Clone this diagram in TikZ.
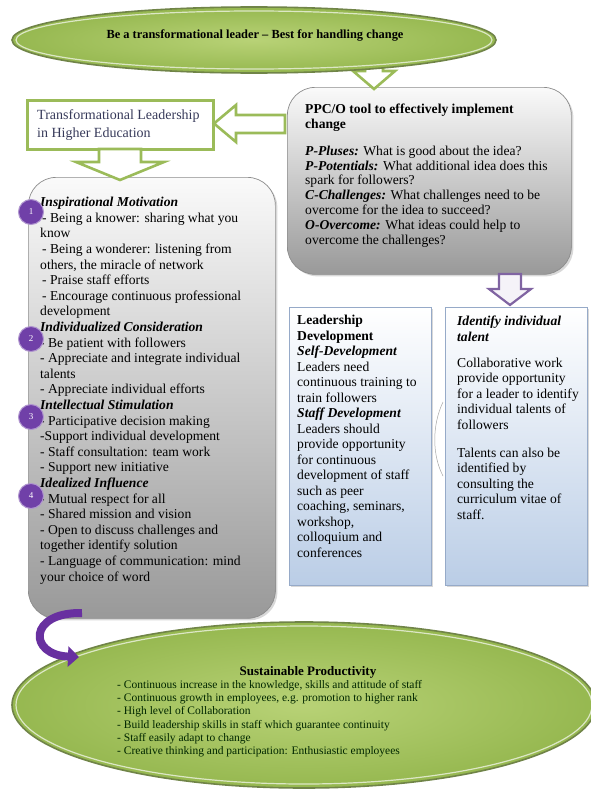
\documentclass[tikz,border=0pt]{standalone}
\usepackage{fontspec}
\setmainfont{Liberation Serif}
\usetikzlibrary{shapes.geometric,shadows,arrows.meta}
\definecolor{grn}{RGB}{155,187,89}
\definecolor{grnin}{RGB}{184,210,118}
\definecolor{grnout}{RGB}{150,184,80}
\definecolor{grndk}{RGB}{112,132,72}
\definecolor{purpc}{RGB}{112,64,168}
\definecolor{purpa}{RGB}{128,100,162}
\definecolor{purpd}{RGB}{104,48,160}
\definecolor{bluebd}{RGB}{150,170,200}
\definecolor{bluebot}{RGB}{186,205,230}
\definecolor{navytx}{RGB}{55,58,90}
\newcommand\mainfs{\fontsize{13.6}{15.6}\selectfont}
\newcommand\ppcfs{\fontsize{13.6}{14.8}\selectfont}
\newcommand\bluefs{\fontsize{13.6}{15.5}\selectfont}
\newcommand\smallfs{\fontsize{11.5}{13.3}\selectfont}
\newcommand\bi[1]{\textbf{\textit{#1}}}
\begin{document}
\begin{tikzpicture}[x=1pt,y=-1pt,
 graybox/.style={draw=black!45,line width=0.7pt,rounded corners=28pt,top color=black!2,bottom color=black!40,drop shadow={shadow xshift=2pt,shadow yshift=-2pt,opacity=0.3}},
 bluebox/.style={draw=bluebd,line width=0.7pt,top color=white,bottom color=bluebot,drop shadow={shadow xshift=1.5pt,shadow yshift=-1.5pt,opacity=0.3}},
 greenell/.style={ellipse,draw=grndk,line width=1.6pt,inner color=grnin,outer color=grnout,inner sep=0pt},
 ring/.style={ellipse,draw=white!65!grn,line width=1.2pt,inner sep=0pt},
 garrow/.style={draw=grn,line width=2.6pt,fill=white,line join=miter},
 parrow/.style={draw=purpa,line width=2.2pt,fill=white!92!purpa},
 txt/.style={inner sep=0pt,anchor=north west,align=left},
 numc/.style={circle,fill=purpc,draw=purpc!55!white,line width=1pt,minimum size=25pt,inner sep=0pt,text=white,font=\fontsize{9}{9}\selectfont},
]
\path[use as bounding box,fill=white] (0,0) rectangle (591,792);
\clip (0,0) rectangle (591,792);

% PPC/O box
\node[graybox,minimum width=284pt,minimum height=187pt,anchor=north west] (ppc) at (287,87) {};
\node[txt,font=\ppcfs] (ppctxt) at (305,104) {\textbf{PPC/O tool to effectively implement}\\
\textbf{change}\\[12pt]
\bi{P-Pluses:} What is good about the idea?\\
\bi{P-Potentials:} What additional idea does this\\
spark for followers?\\
\bi{C-Challenges:} What challenges need to be\\
overcome for the idea to succeed?\\
\bi{O-Overcome:} What ideas could help to\\
overcome the challenges?};

% top arrow and ellipse
\draw[garrow] (365,60)--(383,60)--(383,71)--(395,71)--(374,89)--(353,71)--(365,71)--cycle;
\node[greenell,minimum width=484pt,minimum height=66pt] (top) at (254,40) {};
\node[ring,minimum width=476pt,minimum height=58pt] (topring) at (254,40) {};
\node[font=\bfseries\fontsize{12.4}{14}\selectfont,inner sep=0pt] (toptxt) at (255,36) {Be a transformational leader -- Best for handling change};

% Transformational leadership box
\node[draw=grn,line width=3pt,fill=white,minimum width=186pt,minimum height=49pt,anchor=north west] (tl) at (26,99) {};
\node[txt,text=navytx,font=\fontsize{14}{18}\selectfont] (tltxt) at (37,109) {Transformational Leadership\\in Higher Education};
\draw[garrow] (285,115)--(236,115)--(236,105)--(214,123.5)--(236,142)--(236,133)--(285,133)--cycle;

% left big box
\node[graybox,minimum width=247pt,minimum height=441pt,anchor=north west] (lb) at (28,177) {};
\draw[garrow] (99,149)--(141,149)--(141,162)--(164,162)--(120,180)--(76,162)--(99,162)--cycle;
\node[txt,font=\mainfs] (lbtxt) at (40,197) {\bi{Inspirational Motivation}\\
\hspace*{2pt}- Being a knower: sharing what you\\
know\\
\hspace*{2pt}- Being a wonderer: listening from\\
others, the miracle of network\\
\hspace*{2pt}- Praise staff efforts\\
\hspace*{2pt}- Encourage continuous professional\\
development\\
\bi{Individualized Consideration}\\
- Be patient with followers\\
- Appreciate and integrate individual\\
talents\\
- Appreciate individual efforts\\
\bi{Intellectual Stimulation}\\
- Participative decision making\\
-Support individual development\\
- Staff consultation: team work\\
- Support new initiative\\
\bi{Idealized Influence}\\
- Mutual respect for all\\
- Shared mission and vision\\
- Open to discuss challenges and\\
together identify solution\\
- Language of communication: mind\\
your choice of word};
\node[numc] (c1) at (31,212) {1};
\node[numc] (c2) at (31,339) {2};
\node[numc] (c3) at (31,417) {3};
\node[numc] (c4) at (31,496) {4};

% blue boxes
\node[bluebox,minimum width=142pt,minimum height=278pt,anchor=north west] (ld) at (289,307) {};
\node[bluebox,minimum width=142pt,minimum height=278pt,anchor=north west] (it) at (445,307) {};
\draw[parrow] (499,274)--(521,274)--(521,289)--(531,289)--(510,305)--(489,289)--(499,289)--cycle;
\draw[black!35,line width=0.5pt] (443,402) .. controls (432,425) and (432,455) .. (443,476);
\node[txt,font=\bluefs] (ldtxt) at (297,315) {\textbf{Leadership}\\
\textbf{Development}\\
\bi{Self-Development}\\
Leaders need\\
continuous training to\\
train followers\\
\bi{Staff Development}\\
Leaders should\\
provide opportunity\\
for continuous\\
development of staff\\
such as peer\\
coaching, seminars,\\
workshop,\\
colloquium and\\
conferences};
\node[txt,font=\bluefs] (ittxt) at (457,316) {\bi{Identify individual}\\
\bi{talent}\\[10.5pt]
Collaborative work\\
provide opportunity\\
for a leader to identify\\
individual talents of\\
followers\\[12.5pt]
Talents can also be\\
identified by\\
consulting the\\
curriculum vitae of\\
staff.};

% bottom ellipse
\node[greenell,minimum width=584pt,minimum height=166pt] (bot) at (304,705) {};
\node[ring,minimum width=576pt,minimum height=158pt] (botring) at (304,705) {};
\node[font=\bfseries\fontsize{13}{15}\selectfont,inner sep=0pt] (bottitle) at (308,672) {Sustainable Productivity};
\node[txt,font=\smallfs,text=black!85!green] (bottxt) at (117,680) {- Continuous increase in the knowledge, skills and attitude of staff\\
- Continuous growth in employees, e.g. promotion to higher rank\\
- High level of Collaboration\\
- Build leadership skills in staff which guarantee continuity\\
- Staff easily adapt to change\\
- Creative thinking and participation: Enthusiastic employees};

% curved purple arrow
\coordinate (cs) at (82,613);
\coordinate (ce) at (79,657);
\draw[purpd,line width=8pt,-{Triangle[length=11pt,width=20pt]}] (cs) .. controls (28,612) and (28,655) .. (ce);
\end{tikzpicture}
\end{document}
